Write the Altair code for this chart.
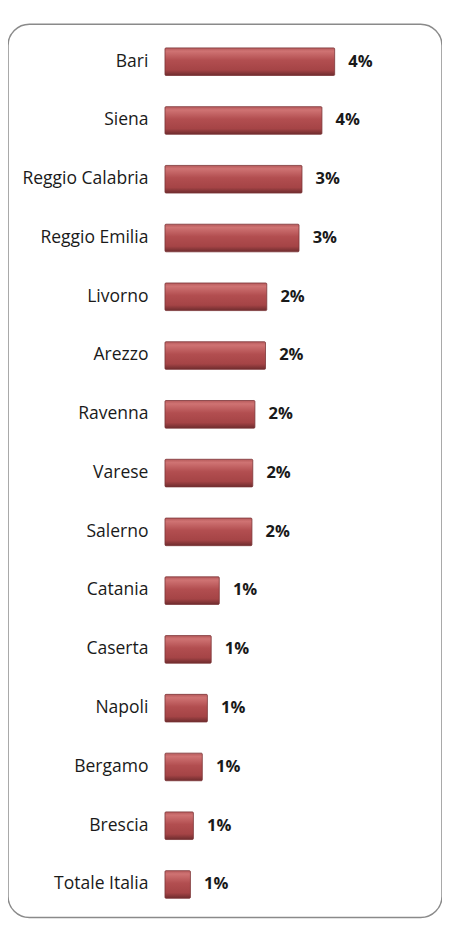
import altair as alt
import pandas as pd

cities = ["Bari", "Siena", "Reggio Calabria", "Reggio Emilia", "Livorno", "Arezzo",
          "Ravenna", "Varese", "Salerno", "Catania", "Caserta", "Napoli", "Bergamo",
          "Brescia", "Totale Italia"]
values = [4.0, 3.7, 3.23, 3.16, 2.4, 2.37, 2.12, 2.07, 2.05, 1.28, 1.09, 1.0, 0.88, 0.67, 0.6]
labels = ["4%", "4%", "3%", "3%", "2%", "2%", "2%", "2%", "2%", "1%", "1%", "1%", "1%", "1%", "1%"]

df = pd.DataFrame({"city": cities, "value": values, "label": labels, "zero": [0] * len(cities)})

xscale = alt.Scale(domain=[-3.70, 6.53], nice=False, zero=False)
yscale = alt.Scale(domain=cities, paddingInner=0.53, paddingOuter=0.365, align=0.55)

grad = alt.Gradient(
    gradient="linear", x1=0, y1=0, x2=0, y2=1,
    stops=[
        alt.GradientStop(color="#b65a5b", offset=0),
        alt.GradientStop(color="#cf7373", offset=0.12),
        alt.GradientStop(color="#b24e50", offset=0.45),
        alt.GradientStop(color="#a54446", offset=0.8),
        alt.GradientStop(color="#6e2c2e", offset=1),
    ],
)

base = alt.Chart(df)

bars = base.mark_bar(fill=grad, stroke="#7a3436", strokeWidth=0.8, cornerRadius=1).encode(
    x=alt.X("zero:Q", scale=xscale, axis=None),
    x2="value:Q",
    y=alt.Y("city:N", scale=yscale, axis=None, sort=cities),
)

names = base.mark_text(align="right", baseline="middle", dx=-17, font="Open Sans",
                       fontSize=18, color="#1a1a1a").encode(
    x=alt.X("zero:Q", scale=xscale),
    y=alt.Y("city:N", scale=yscale, sort=cities),
    text="city:N",
)

pct = base.mark_text(align="left", baseline="middle", dx=14, font="Open Sans",
                     fontSize=17, fontWeight="bold", color="#1a1a1a").encode(
    x=alt.X("value:Q", scale=xscale),
    y=alt.Y("city:N", scale=yscale, sort=cities),
    text="label:N",
)

chart = (bars + names + pct).properties(
    width=446, height=918,
    padding={"left": 0, "top": 4, "right": 0, "bottom": 0},
).configure_view(
    stroke="#8a8a8a", strokeWidth=1.5, cornerRadius=22, fill="white"
)

chart.save("out.html", embed_options={"renderer": "svg", "actions": False})
